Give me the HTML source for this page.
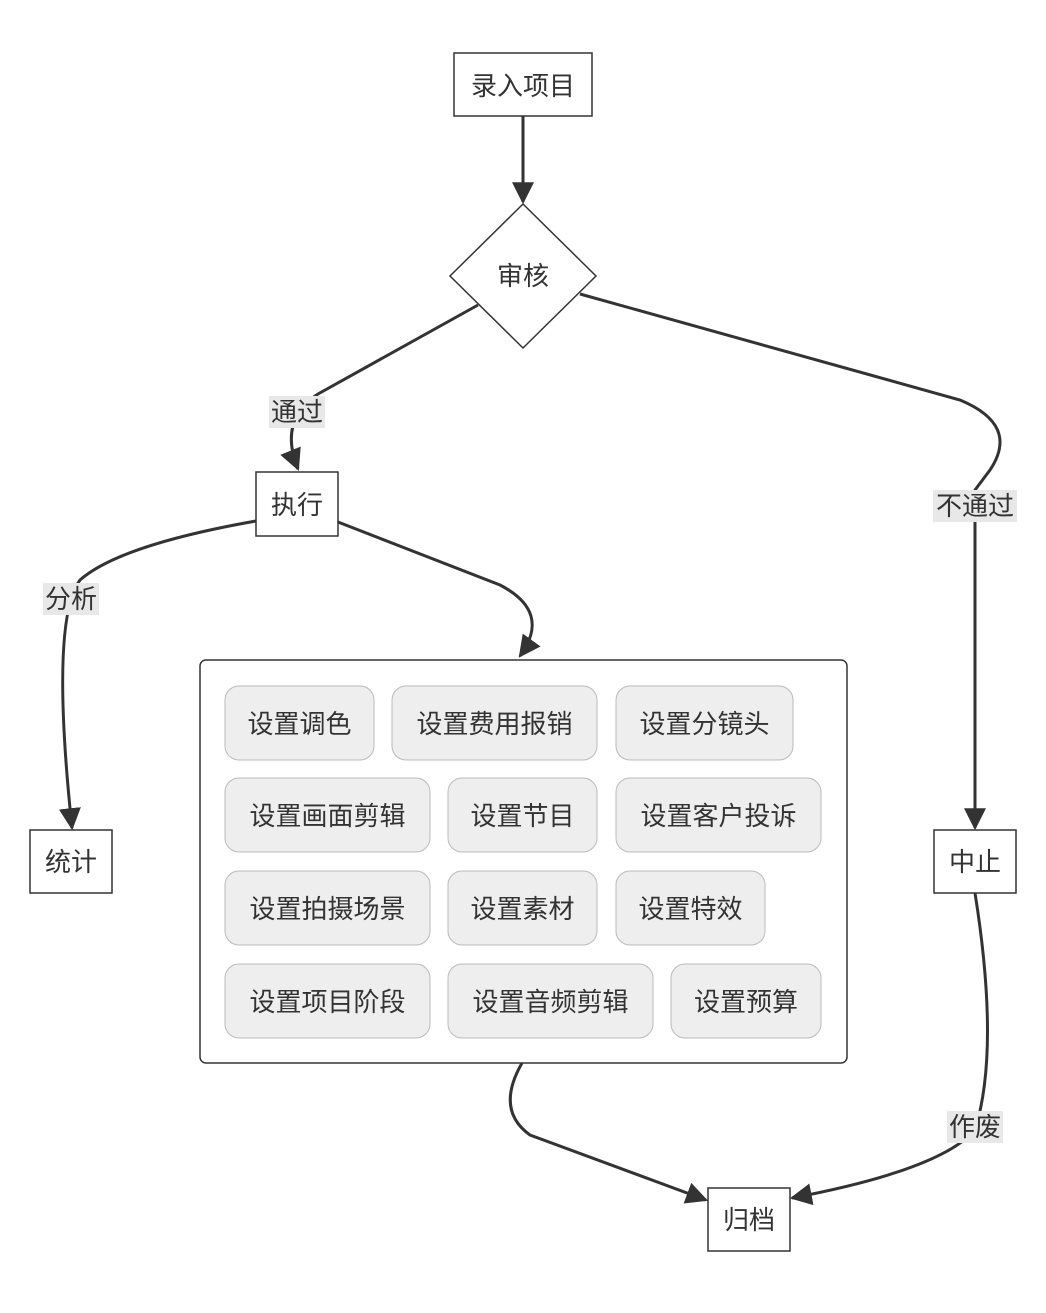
<!DOCTYPE html>
<html><head><meta charset="utf-8"><style>
body{margin:0;background:#fff}
text{font-family:"Liberation Sans","Noto Sans CJK SC",sans-serif;font-size:26px;fill:#333;text-anchor:middle;dominant-baseline:central}
</style></head><body>
<svg width="1046" height="1308" viewBox="0 0 1046 1308" xmlns="http://www.w3.org/2000/svg">
<defs><marker id="a" viewBox="0 0 10 10" refX="9" refY="5" markerWidth="7" markerHeight="7" orient="auto-start-reverse" markerUnits="userSpaceOnUse"><path d="M0,0L10,5L0,10z" fill="#333"/></marker>
<marker id="b" viewBox="0 0 10 10" refX="9" refY="5" markerWidth="22" markerHeight="22" orient="auto" markerUnits="userSpaceOnUse"><path d="M0,0L10,5L0,10z" fill="#333"/></marker></defs>
<g fill="none" stroke="#333" stroke-width="3">
<path d="M523,116 L523,202" marker-end="url(#b)"/>
<path d="M478,305 L318,394 Q278,420 298,469" marker-end="url(#b)"/>
<path d="M580,294 L960,400 Q1020,425 990,470 L975,490 L975,828" marker-end="url(#b)"/>
<path d="M256,521 Q120,545 80,580 Q50,620 72,828" marker-end="url(#b)"/>
<path d="M338,522 L500,585 Q552,612 520,656" marker-end="url(#b)"/>
<path d="M522,1063 Q495,1110 530,1135 L706,1200" marker-end="url(#b)"/>
<path d="M975,893 Q1000,1050 975,1130 Q940,1170 792,1198" marker-end="url(#b)"/>
</g>
<g fill="#fff" stroke="#333" stroke-width="1.5">
<rect x="454" y="53" width="138" height="63"/>
<path d="M523,204 L596,276 L523,348 L450,276z"/>
<rect x="256" y="472" width="82" height="64"/>
<rect x="30" y="830" width="82" height="63"/>
<rect x="934" y="830" width="82" height="63"/>
<rect x="708" y="1188" width="82" height="63"/>
<rect x="200" y="660" width="647" height="403" rx="6"/>
</g>
<text x="523" y="86">录入项目</text>
<text x="523" y="276">审核</text>
<text x="297" y="505">执行</text>
<text x="71" y="862">统计</text>
<text x="975" y="862">中止</text>
<text x="749" y="1220">归档</text>
<g fill="#e8e8e8">
<rect x="269" y="396" width="56" height="32"/>
<rect x="933" y="490" width="84" height="32"/>
<rect x="43" y="583" width="56" height="32"/>
<rect x="947" y="1111" width="56" height="32"/>
</g>
<text x="297" y="412">通过</text>
<text x="975" y="506">不通过</text>
<text x="71" y="599">分析</text>
<text x="975" y="1127">作废</text>
<g fill="#eee" stroke="#bbb" stroke-width="1">
<rect x="225" y="686" width="149" height="74" rx="14"/>
<rect x="392" y="686" width="205" height="74" rx="14"/>
<rect x="616" y="686" width="177" height="74" rx="14"/>
<rect x="225" y="778" width="205" height="74" rx="14"/>
<rect x="448" y="778" width="149" height="74" rx="14"/>
<rect x="616" y="778" width="205" height="74" rx="14"/>
<rect x="225" y="871" width="205" height="74" rx="14"/>
<rect x="448" y="871" width="149" height="74" rx="14"/>
<rect x="616" y="871" width="149" height="74" rx="14"/>
<rect x="225" y="964" width="205" height="74" rx="14"/>
<rect x="448" y="964" width="205" height="74" rx="14"/>
<rect x="671" y="964" width="150" height="74" rx="14"/>
</g>
<text x="299.5" y="724">设置调色</text>
<text x="494.5" y="724">设置费用报销</text>
<text x="704.5" y="724">设置分镜头</text>
<text x="327.5" y="816">设置画面剪辑</text>
<text x="522.5" y="816">设置节目</text>
<text x="718.5" y="816">设置客户投诉</text>
<text x="327.5" y="909">设置拍摄场景</text>
<text x="522.5" y="909">设置素材</text>
<text x="690.5" y="909">设置特效</text>
<text x="327.5" y="1002">设置项目阶段</text>
<text x="550.5" y="1002">设置音频剪辑</text>
<text x="746" y="1002">设置预算</text>
</svg>
</body></html>
